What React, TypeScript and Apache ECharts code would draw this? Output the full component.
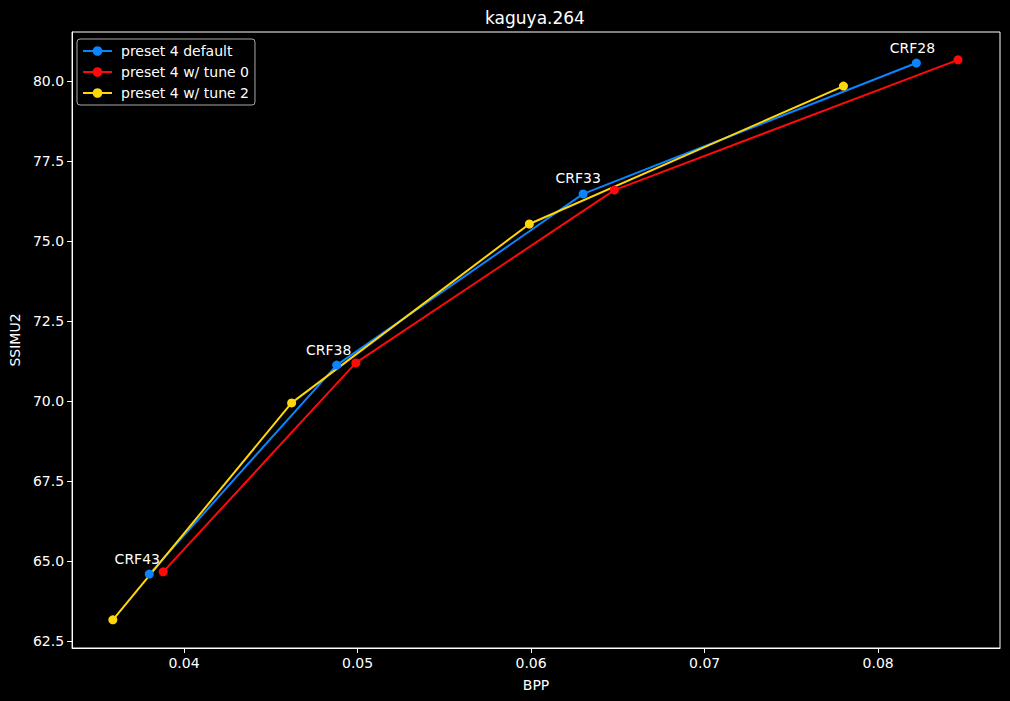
import React, { useEffect, useRef } from "react";
import * as echarts from "echarts";

const bppDefault = [0.038, 0.0488, 0.063, 0.0822];
const ssimDefault = [64.59, 71.12, 76.47, 80.56];
const bppTune0 = [0.0388, 0.0499, 0.0648, 0.0846];
const ssimTune0 = [64.66, 71.19, 76.59, 80.66];
const bppTune2 = [0.0359, 0.0462, 0.0599, 0.078];
const ssimTune2 = [63.16, 69.94, 75.53, 79.84];
const crfLabels = ["CRF43", "CRF38", "CRF33", "CRF28"];
const seriesNames = ["preset 4 default", "preset 4 w/ tune 0", "preset 4 w/ tune 2"];
const xTicks = [0.04, 0.05, 0.06, 0.07, 0.08];
const yTicks = [62.5, 65, 67.5, 70, 72.5, 75, 77.5, 80];

const FONT = "'DejaVu Sans', sans-serif";
const labelDx = [-12, -8, -5, -4];

function pairs(xs: number[], ys: number[]) {
  return xs.map((x, i) => [x, ys[i]]);
}

export default function App() {
  const ref = useRef<HTMLDivElement>(null);
  useEffect(() => {
    if (!ref.current) return;
    const chart = echarts.init(ref.current, null, { renderer: "svg" });
    const axisCommon = {
      type: "value" as const,
      nameLocation: "middle" as const,
      nameTextStyle: { color: "#fff", fontSize: 14, fontFamily: FONT },
      axisLine: { show: true, lineStyle: { color: "#fff", width: 1 } },
      splitLine: { show: false },
    };
    const lineSeries = (name: string, data: any[], color: string) => ({
      name,
      type: "line",
      data,
      symbol: "circle",
      symbolSize: 9,
      lineStyle: { color, width: 2 },
      itemStyle: { color },
    });
    const defaultData = pairs(bppDefault, ssimDefault).map((p, i) => ({
      value: p,
      label: {
        show: true,
        formatter: crfLabels[i],
        position: "top",
        distance: 4,
        offset: [labelDx[i], 0],
        color: "#fff",
        fontSize: 14,
        fontFamily: FONT,
      },
    }));
    chart.setOption({
      animation: false,
      backgroundColor: "#000",
      textStyle: { fontFamily: FONT },
      grid: {
        left: 70,
        right: 10,
        top: 32,
        bottom: 53,
        show: true,
        borderColor: "#fff",
        borderWidth: 1,
        backgroundColor: "transparent",
      },
      graphic: [
        {
          type: "text",
          x: 535,
          y: 18,
          style: {
            text: "kaguya.264",
            align: "center",
            verticalAlign: "middle",
            fill: "#fff",
            fontSize: 17,
            fontFamily: FONT,
          },
        },
      ],
      legend: {
        orient: "vertical",
        left: 77,
        top: 39,
        padding: [5, 6, 5, 5],
        itemGap: 7,
        itemWidth: 29,
        itemHeight: 12,
        backgroundColor: "#000",
        borderColor: "#aaa",
        borderWidth: 1,
        borderRadius: 3,
        textStyle: { color: "#fff", fontSize: 14, fontFamily: FONT, padding: [0, 0, 0, 4], lineHeight: 14 },
        data: seriesNames,
      },
      xAxis: {
        ...axisCommon,
        name: "BPP",
        nameGap: 30,
        min: 0.03355,
        max: 0.08702,
        axisTick: { show: true, customValues: xTicks, length: 5, lineStyle: { color: "#fff" } },
        axisLabel: {
          customValues: xTicks,
          color: "#fff",
          fontSize: 14,
          fontFamily: FONT,
          margin: 8,
          formatter: (v: number) => v.toFixed(2),
        },
      },
      yAxis: {
        ...axisCommon,
        name: "SSIMU2",
        nameGap: 46,
        min: 62.28,
        max: 81.53,
        axisTick: { show: true, customValues: yTicks, length: 5, lineStyle: { color: "#fff" } },
        axisLabel: {
          customValues: yTicks,
          color: "#fff",
          fontSize: 14,
          fontFamily: FONT,
          margin: 8,
          formatter: (v: number) => v.toFixed(1),
        },
      },
      series: [
        lineSeries(seriesNames[0], defaultData, "#0a84ff"),
        lineSeries(seriesNames[1], pairs(bppTune0, ssimTune0), "#ff0a0a"),
        lineSeries(seriesNames[2], pairs(bppTune2, ssimTune2), "#ffd60a"),
      ],
    });
    return () => chart.dispose();
  }, []);
  return (
    <div
      ref={ref}
      style={{ position: "fixed", left: 0, top: 0, width: 1010, height: 701, background: "#000" }}
    />
  );
}
